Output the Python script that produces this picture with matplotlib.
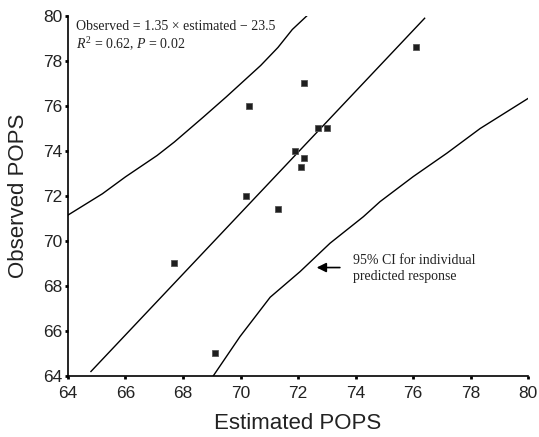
import matplotlib
matplotlib.use('Agg')
import matplotlib.pyplot as plt

plt.rcParams['font.family'] = ['Liberation Sans', 'DejaVu Sans']
plt.rcParams['mathtext.fontset'] = 'custom'
plt.rcParams['mathtext.rm'] = 'Liberation Serif'
plt.rcParams['mathtext.it'] = 'Liberation Serif:italic'

# observed vs estimated POPS
estimated = [67.7, 69.1, 70.2, 70.3, 71.3, 71.9, 72.1, 72.2, 72.2, 72.7, 73.0, 76.1]
observed = [69.0, 65.0, 72.0, 76.0, 71.4, 74.0, 73.3, 73.7, 77.0, 75.0, 75.0, 78.6]

# regression line ends
fit_x = [64.8, 76.4]
fit_y = [64.2, 79.9]

# 95% prediction band
upper_x = [64.0, 65.2, 66.0, 67.1, 67.7, 68.7, 69.5, 70.7, 71.3, 71.8, 72.3]
upper_y = [71.15, 72.1, 72.85, 73.8, 74.4, 75.5, 76.4, 77.8, 78.6, 79.4, 80.0]
lower_x = [69.05, 69.98, 71.03, 72.07, 73.11, 74.27, 74.85, 76.0, 77.17, 78.33, 80.0]
lower_y = [64.0, 65.75, 67.5, 68.64, 69.9, 71.08, 71.75, 72.86, 73.9, 75.0, 76.34]

xticks = list(range(64, 81, 2))
yticks = list(range(64, 81, 2))

fig = plt.figure(figsize=(5.39, 4.37), dpi=100)
ax = fig.add_axes([0.126, 0.1396, 0.854, 0.8238])

ax.plot(fit_x, fit_y, color='black', lw=1.0)
ax.plot(upper_x, upper_y, color='black', lw=1.0)
ax.plot(lower_x, lower_y, color='black', lw=1.0)
ax.plot(estimated, observed, 's', ms=5, color='#1e1e1e', mec='#555555', mew=0.6)

ax.set_xlim(64, 80)
ax.set_ylim(64, 80)
ax.set_xticks(xticks)
ax.set_yticks(yticks)
ax.spines['top'].set_visible(False)
ax.spines['right'].set_visible(False)
ax.spines['left'].set_linewidth(1.2)
ax.spines['bottom'].set_linewidth(1.2)
ax.tick_params(direction='out', length=2, width=2, labelsize=12.5, labelcolor='#222222')
ax.tick_params(axis='x', pad=5)
ax.tick_params(axis='y', pad=2)

ax.set_xlabel('Estimated POPS', fontsize=16, labelpad=9, color='#222222')
ax.set_ylabel('Observed POPS', fontsize=16, labelpad=10, color='#222222')

ax.text(64.27, 79.1, 'Observed = 1.35 \u00d7 estimated \u2212 23.5\n$R^2$ = 0.62, $P$ = 0.02',
        family='Liberation Serif', fontsize=10, va='center', ha='left', linespacing=1.2,
        color='#222222')

ax.annotate('', xy=(72.55, 68.82), xytext=(73.55, 68.82),
            arrowprops=dict(arrowstyle='-|>', color='black', lw=1.2, mutation_scale=14))
ax.text(73.9, 68.76, '95% CI for individual\npredicted response', family='Liberation Serif',
        fontsize=10, va='center', ha='left', linespacing=1.3, color='#222222')

fig.savefig('out.png', dpi=100)
